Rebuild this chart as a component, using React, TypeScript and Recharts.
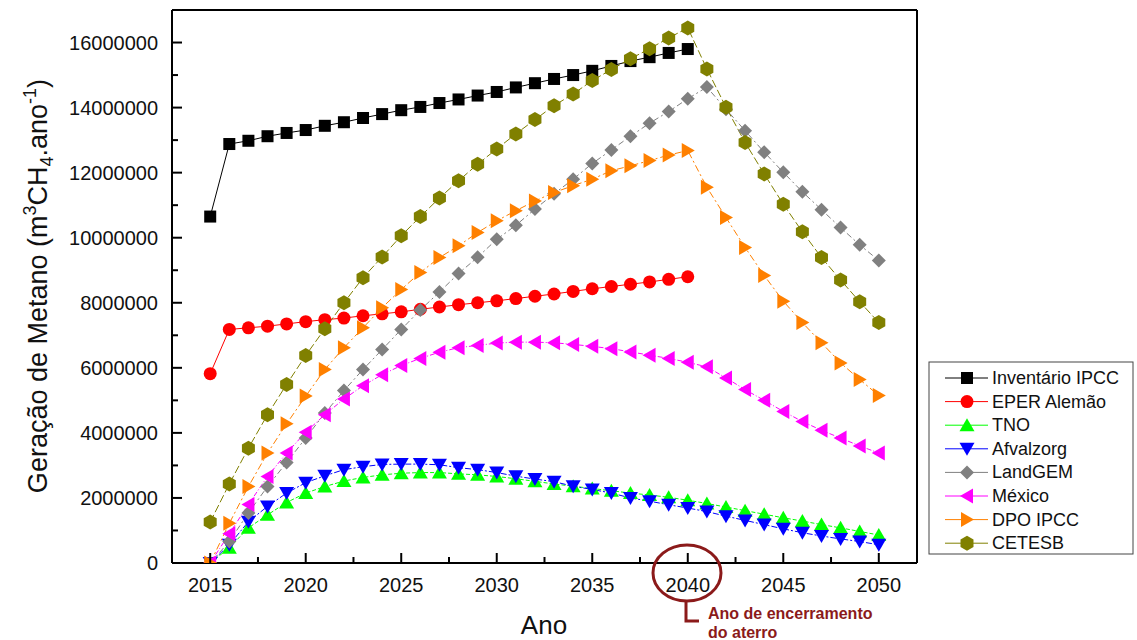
import { LineChart, Line, XAxis, YAxis } from "recharts";

// valores, em milhões de m3 CH4/ano
const years = [
  2015, 2016, 2017, 2018, 2019, 2020, 2021, 2022, 2023, 2024, 2025, 2026,
  2027, 2028, 2029, 2030, 2031, 2032, 2033, 2034, 2035, 2036, 2037, 2038,
  2039, 2040, 2041, 2042, 2043, 2044, 2045, 2046, 2047, 2048, 2049, 2050,
];

const inventarioIpcc = [
  10.65, 12.88, 12.98, 13.12, 13.22, 13.31, 13.44, 13.55, 13.68, 13.8, 13.92,
  14.02, 14.14, 14.25, 14.37, 14.48, 14.62, 14.75, 14.88, 15.0, 15.13, 15.28,
  15.43, 15.55, 15.68, 15.8, null, null, null, null, null, null, null, null,
  null, null,
];
const eperAlemao = [
  5.82, 7.18, 7.23, 7.28, 7.35, 7.42, 7.48, 7.53, 7.6, 7.66, 7.72, 7.8, 7.87,
  7.94, 8.0, 8.06, 8.13, 8.2, 8.27, 8.35, 8.43, 8.5, 8.57, 8.64, 8.72, 8.8,
  null, null, null, null, null, null, null, null, null, null,
];
const tno = [
  0, 0.47, 1.08, 1.48, 1.86, 2.15, 2.35, 2.52, 2.63, 2.71, 2.76, 2.78, 2.78,
  2.74, 2.71, 2.66, 2.59, 2.51, 2.43, 2.36, 2.29, 2.22, 2.15, 2.09, 2.02, 1.93,
  1.83, 1.72, 1.61, 1.5, 1.39, 1.29, 1.18, 1.08, 0.97, 0.86,
];
const afvalzorg = [
  0, 0.56, 1.27, 1.74, 2.15, 2.47, 2.68, 2.87, 2.96, 3.03, 3.04, 3.04, 3.02,
  2.93, 2.87, 2.78, 2.67, 2.58, 2.5, 2.36, 2.26, 2.15, 2.0, 1.9, 1.79, 1.69,
  1.58, 1.44, 1.31, 1.18, 1.05, 0.93, 0.83, 0.74, 0.66, 0.56,
];
const landGem = [
  0, 0.66, 1.54, 2.35, 3.09, 3.84, 4.61, 5.3, 5.95, 6.56, 7.18, 7.78, 8.33,
  8.9, 9.4, 9.95, 10.38, 10.88, 11.35, 11.8, 12.28, 12.7, 13.12, 13.52, 13.88,
  14.27, 14.63, 13.95, 13.29, 12.63, 12.01, 11.41, 10.86, 10.31, 9.78, 9.3,
];
const mexico = [
  0, 0.9, 1.8, 2.66, 3.38, 4.02, 4.56, 5.04, 5.45, 5.79, 6.07, 6.29, 6.48,
  6.62, 6.69, 6.76, 6.79, 6.79, 6.77, 6.72, 6.66, 6.59, 6.49, 6.39, 6.29, 6.17,
  6.03, 5.69, 5.33, 5.0, 4.66, 4.35, 4.08, 3.84, 3.6, 3.38,
];
const dpoIpcc = [
  0, 1.22, 2.35, 3.38, 4.28, 5.13, 5.95, 6.62, 7.23, 7.85, 8.41, 8.93, 9.39,
  9.75, 10.16, 10.52, 10.83, 11.13, 11.39, 11.6, 11.8, 12.06, 12.21, 12.37,
  12.54, 12.68, 11.55, 10.62, 9.7, 8.84, 8.05, 7.39, 6.77, 6.15, 5.64, 5.15,
];
const cetesb = [
  1.26, 2.43, 3.53, 4.56, 5.49, 6.38, 7.2, 8.0, 8.77, 9.41, 10.06, 10.65,
  11.22, 11.75, 12.26, 12.73, 13.19, 13.63, 14.06, 14.42, 14.83, 15.17, 15.5,
  15.81, 16.14, 16.45, 15.19, 14.01, 12.93, 11.96, 11.03, 10.18, 9.39, 8.7,
  8.03, 7.39,
];

// marcas principais (com rótulo) e secundárias (sem rótulo)
const xMajorTicks = [2015, 2020, 2025, 2030, 2035, 2040, 2045, 2050];
const xMinorTicks = [2017.5, 2022.5, 2027.5, 2032.5, 2037.5, 2042.5, 2047.5];
const yMajorTicks = [
  0, 2000000, 4000000, 6000000, 8000000, 10000000, 12000000, 14000000,
  16000000,
];
const yMinorTicks = [
  1000000, 3000000, 5000000, 7000000, 9000000, 11000000, 13000000, 15000000,
];

type Shape =
  | "square"
  | "circle"
  | "up"
  | "down"
  | "diamond"
  | "left"
  | "right"
  | "hexagon";

interface Serie {
  key: string;
  name: string;
  values: (number | null)[];
  shape: Shape;
  color: string;
  dash?: string;
}

const series: Serie[] = [
  { key: "inv", name: "Inventário IPCC", values: inventarioIpcc, shape: "square", color: "#000000" },
  { key: "eper", name: "EPER Alemão", values: eperAlemao, shape: "circle", color: "#ff0000" },
  { key: "tno", name: "TNO", values: tno, shape: "up", color: "#00ff00", dash: "4 2" },
  { key: "afv", name: "Afvalzorg", values: afvalzorg, shape: "down", color: "#0000ff", dash: "6 2 2 2" },
  { key: "lg", name: "LandGEM", values: landGem, shape: "diamond", color: "#808080", dash: "6 3 2 3" },
  { key: "mx", name: "México", values: mexico, shape: "left", color: "#ff00ff", dash: "5 2 1 2" },
  { key: "dpo", name: "DPO IPCC", values: dpoIpcc, shape: "right", color: "#ff8000", dash: "7 3 2 3" },
  { key: "cet", name: "CETESB", values: cetesb, shape: "hexagon", color: "#808000", dash: "8 3" },
];

const data = years.map((year, i) => {
  const row: Record<string, number | null> = { year };
  series.forEach((s) => {
    const v = s.values[i];
    row[s.key] = v == null ? null : Math.round(v * 1000000);
  });
  return row;
});

const xTicks = [...xMajorTicks, ...xMinorTicks].sort((a, b) => a - b);
const yTicks = [...yMajorTicks, ...yMinorTicks].sort((a, b) => a - b);

const font = '"Liberation Sans", Arial, sans-serif';
const annotColor = "#8b1a1a";
const X_MARGIN = 15;
const Y_MARGIN = 14;

function Marker({ shape, x, y, color }: { shape: Shape; x: number; y: number; color: string }) {
  switch (shape) {
    case "square":
      return <rect x={x - 6} y={y - 6} width={12} height={12} fill={color} />;
    case "circle":
      return <circle cx={x} cy={y} r={6.5} fill={color} />;
    case "up":
      return <polygon points={`${x},${y - 7} ${x + 7.5},${y + 6} ${x - 7.5},${y + 6}`} fill={color} />;
    case "down":
      return <polygon points={`${x},${y + 7} ${x + 7.5},${y - 6} ${x - 7.5},${y - 6}`} fill={color} />;
    case "diamond":
      return <polygon points={`${x},${y - 7} ${x + 7},${y} ${x},${y + 7} ${x - 7},${y}`} fill={color} />;
    case "left":
      return <polygon points={`${x - 7},${y} ${x + 6},${y - 7.5} ${x + 6},${y + 7.5}`} fill={color} />;
    case "right":
      return <polygon points={`${x + 7},${y} ${x - 6},${y - 7.5} ${x - 6},${y + 7.5}`} fill={color} />;
    case "hexagon": {
      const r = 7.5;
      const c = r * 0.866;
      return (
        <polygon
          points={`${x},${y - r} ${x + c},${y - r / 2} ${x + c},${y + r / 2} ${x},${y + r} ${x - c},${y + r / 2} ${x - c},${y - r / 2}`}
          fill={color}
        />
      );
    }
  }
  return null;
}

function makeDot(s: Serie) {
  return (p: any) => {
    const k = `${s.key}-${p.index}`;
    if (p.cx == null || p.cy == null || p.value == null) return <g key={k} />;
    return (
      <g key={k}>
        <Marker shape={s.shape} x={p.cx} y={p.cy} color={s.color} />
      </g>
    );
  };
}

// marcas para dentro do gráfico + rótulo
function XTick(p: any) {
  const v = p.payload.value;
  const major = xMajorTicks.includes(v);
  const y0 = p.y - X_MARGIN;
  return (
    <g>
      <line x1={p.x} x2={p.x} y1={y0} y2={y0 - (major ? 10 : 6)} stroke="#000" strokeWidth={2} />
      {major && (
        <text x={p.x} y={p.y} dy="0.71em" textAnchor="middle" fontSize={20} fill="#111" fontFamily={font}>
          {v}
        </text>
      )}
    </g>
  );
}

function YTick(p: any) {
  const v = p.payload.value;
  const major = yMajorTicks.includes(v);
  const x0 = p.x + Y_MARGIN;
  return (
    <g>
      <line x1={x0} x2={x0 + (major ? 10 : 6)} y1={p.y} y2={p.y} stroke="#000" strokeWidth={2} />
      {major && (
        <text x={p.x} y={p.y} dy="0.355em" textAnchor="end" fontSize={20} fill="#111" fontFamily={font}>
          {String(v)}
        </text>
      )}
    </g>
  );
}

const frame = { stroke: "#000", strokeWidth: 2 };

export default function App() {
  return (
    <div style={{ position: "absolute", left: 0, top: 0, width: 1137, height: 640, background: "#fff" }}>
      <LineChart
        width={1137}
        height={640}
        data={data}
        margin={{ top: 10, right: 220, bottom: 37, left: 72 }}
      >
        <XAxis
          xAxisId={0}
          dataKey="year"
          type="number"
          domain={[2013, 2052]}
          ticks={xTicks}
          interval={0}
          allowDataOverflow
          height={40}
          tickLine={false}
          tickSize={0}
          tickMargin={X_MARGIN}
          axisLine={frame}
          tick={XTick}
        />
        <XAxis
          xAxisId="xtop"
          orientation="top"
          dataKey="year"
          type="number"
          domain={[2013, 2052]}
          allowDataOverflow
          mirror
          tick={false}
          tickLine={false}
          axisLine={frame}
        />
        <YAxis
          yAxisId={0}
          type="number"
          domain={[0, 17000000]}
          ticks={yTicks}
          interval={0}
          allowDataOverflow
          width={100}
          tickLine={false}
          tickSize={0}
          tickMargin={Y_MARGIN}
          axisLine={frame}
          tick={YTick}
        />
        <YAxis
          yAxisId="yright"
          orientation="right"
          type="number"
          domain={[0, 17000000]}
          allowDataOverflow
          mirror
          tick={false}
          tickLine={false}
          axisLine={frame}
        />
        {series.map((s) => (
          <Line
            key={s.key}
            dataKey={s.key}
            name={s.name}
            type="linear"
            stroke={s.color}
            strokeWidth={1}
            strokeDasharray={s.dash}
            dot={makeDot(s)}
            activeDot={false}
            connectNulls={false}
            isAnimationActive={false}
          />
        ))}
      </LineChart>

      <svg
        width={1137}
        height={640}
        style={{ position: "absolute", left: 0, top: 0, pointerEvents: "none" }}
        fontFamily={font}
      >
        <text transform="translate(47,286) rotate(-90)" textAnchor="middle" fontSize={27} fill="#111">
          Geração de Metano (m
          <tspan dy={-11} fontSize={18}>3</tspan>
          <tspan dy={11}>CH</tspan>
          <tspan dy={6} fontSize={18}>4</tspan>
          <tspan dy={-6}>.ano</tspan>
          <tspan dy={-11} fontSize={18}>-1</tspan>
          <tspan dy={11}>)</tspan>
        </text>
        <text x={544} y={634} textAnchor="middle" fontSize={26} fill="#111">
          Ano
        </text>

        <ellipse cx={687} cy={573} rx={34} ry={28} fill="none" stroke={annotColor} strokeWidth={3} />
        <path d="M686 601 V621 H699" fill="none" stroke={annotColor} strokeWidth={3} />
        <text x={708} y={619} fontSize={16} fontWeight="bold" fill={annotColor}>
          Ano de encerramento
        </text>
        <text x={708} y={638} fontSize={16} fontWeight="bold" fill={annotColor}>
          do aterro
        </text>

        <rect x={929} y={362} width={204} height={192} fill="#fff" stroke="#444" strokeWidth={1} />
        {series.map((s, i) => {
          const y = 378 + i * 23.6;
          return (
            <g key={s.key}>
              <line x1={945} x2={988} y1={y} y2={y} stroke={s.color} strokeWidth={1} />
              <Marker shape={s.shape} x={967} y={y} color={s.color} />
              <text x={992} y={y} dominantBaseline="central" fontSize={18} fill="#111">
                {s.name}
              </text>
            </g>
          );
        })}
      </svg>
    </div>
  );
}
